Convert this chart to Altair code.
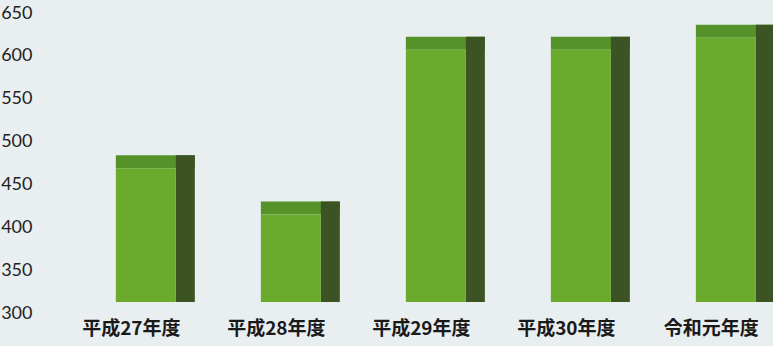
import altair as alt
import pandas as pd

categories = ["平成27年度", "平成28年度", "平成29年度", "平成30年度", "令和元年度"]
values = [469, 415, 607, 607, 621]

df = pd.DataFrame({"idx": list(range(len(categories))), "cat": categories, "value": values})
df["base"] = 300

label_expr = "[" + ",".join("'" + c + "'" for c in categories) + "][datum.value]"

x = alt.X("idx:Q", scale=alt.Scale(domain=[-0.592, 4.394], nice=False, zero=False),
          axis=alt.Axis(values=list(range(len(categories))), labelExpr=label_expr,
                        title=None, domain=False, ticks=False, grid=False,
                        labelFont="Noto Sans CJK JP", labelFontWeight="bold",
                        labelFontSize=19, labelColor="#1a1a1a", labelPadding=6,
                        labelBaseline="top"))
y = alt.Y("value:Q", scale=alt.Scale(domain=[300, 650], nice=False, zero=False),
          axis=alt.Axis(values=[300, 350, 400, 450, 500, 550, 600, 650], title=None,
                        domain=False, ticks=False, grid=False, labelFont="Lato",
                        labelFontSize=18, labelColor="#222222", labelPadding=8))

base = alt.Chart(df)

top_face = base.mark_bar(width=79, xOffset=24.5, yOffset=-13, color="#55922a").encode(
    x=x, y=y, y2=alt.Y2("value:Q"))
side_face = base.mark_bar(width=19, xOffset=54.5, yOffset=-13, y2Offset=-11, color="#3c5424").encode(
    x=x, y=y, y2="base:Q")
front_face = base.mark_bar(width=60, xOffset=15, y2Offset=-11, color="#6aab2e").encode(
    x=x, y=y, y2="base:Q")

chart = alt.layer(top_face, side_face, front_face).properties(
    width=733, height=300,
    autosize=alt.AutoSizeParams(type="none"),
    padding={"left": 40, "top": 13, "right": 0, "bottom": 33},
    background="#e9eef0",
).configure_view(stroke=None)

chart.save("out.html", embed_options={"renderer": "svg", "actions": False})
